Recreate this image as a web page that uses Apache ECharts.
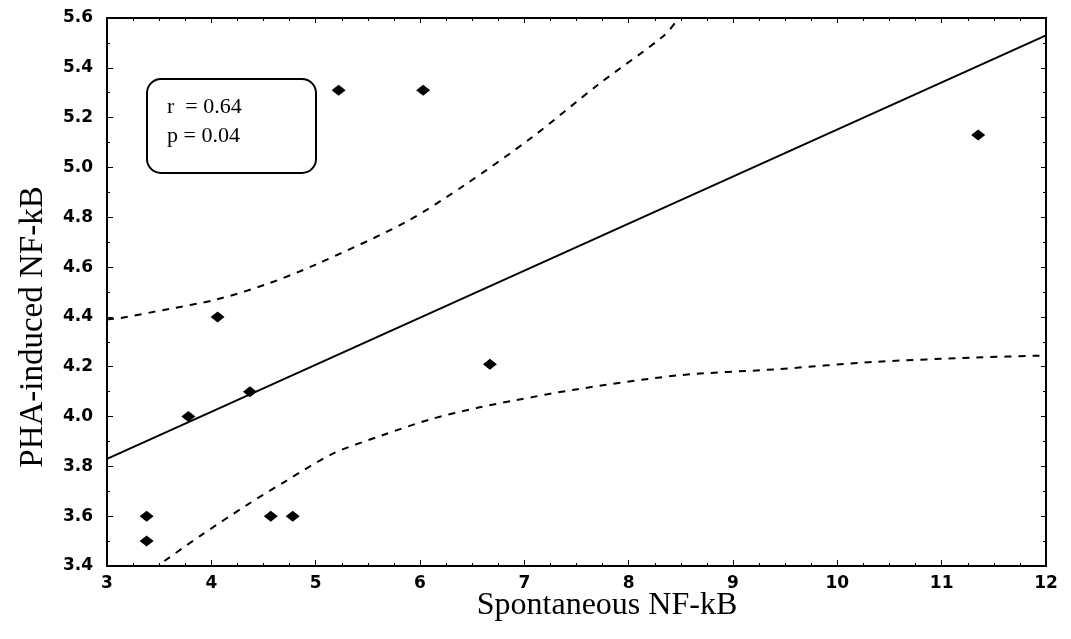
<!DOCTYPE html>
<html>
<head>
<meta charset="utf-8">
<script src="https://cdn.jsdelivr.net/npm/echarts@6/dist/echarts.min.js"></script>
<style>
  html, body { margin: 0; padding: 0; background: #fff; }
  #chart { width: 1071px; height: 639px; }
</style>
</head>
<body>
<div id="chart"></div>
<script>
// scatter points (spontaneous, PHA-induced)
const spontaneous = [3.38, 3.38, 3.78, 4.06, 4.37, 4.57, 4.78, 5.22, 6.03, 6.67, 11.35];
const phaInduced = [3.6, 3.5, 4.0, 4.4, 4.1, 3.6, 3.6, 5.31, 5.31, 4.21, 5.13];

// regression line ends
const fitX = [3, 12];
const fitY = [3.83, 5.53];

// upper confidence band
const upperX = [3.0, 3.12, 3.57, 4.05, 4.52, 5.0, 5.86, 6.43, 7.07, 7.7, 8.34, 8.48];
const upperY = [4.39, 4.395, 4.43, 4.47, 4.53, 4.61, 4.78, 4.93, 5.12, 5.33, 5.53, 5.6];

// lower confidence band
const lowerX = [3.55, 3.89, 4.36, 4.71, 5.16, 5.64, 6.11, 6.56, 6.91, 7.51, 8.47, 9.42, 10.38, 11.33, 12];
const lowerY = [3.42, 3.52, 3.65, 3.74, 3.85, 3.925, 3.99, 4.036, 4.065, 4.11, 4.165, 4.19, 4.22, 4.237, 4.245];

const pts = spontaneous.map((x, i) => [x, phaInduced[i]]);
const zip = (xs, ys) => xs.map((x, i) => [x, ys[i]]);

const chart = echarts.init(document.getElementById('chart'), null, { renderer: 'canvas' });

const tickFont = { fontFamily: 'DejaVu Sans', fontSize: 17, fontWeight: 'bold', color: '#000' };
const axisLine = { show: true, lineStyle: { color: '#000', width: 2 } };

chart.setOption({
  animation: false,
  grid: { left: 107, right: 25, top: 18, bottom: 73 },
  xAxis: [
    {
      type: 'value', min: 3, max: 12, interval: 1,
      axisLine, splitLine: { show: false },
      axisTick: { inside: true, length: 6, lineStyle: { color: '#000' } },
      minorTick: { show: true, splitNumber: 4, length: 3, lineStyle: { color: '#000' } },
      axisLabel: { ...tickFont, margin: 9 },
    },
    {
      type: 'value', position: 'top', min: 3, max: 12, interval: 1,
      axisLine, splitLine: { show: false },
      axisTick: { inside: true, length: 5, lineStyle: { color: '#000' } },
      minorTick: { show: true, splitNumber: 4, length: 3, lineStyle: { color: '#000' } },
      axisLabel: { show: false },
    },
  ],
  yAxis: [
    {
      type: 'value', min: 3.4, max: 5.6, interval: 0.2,
      axisLine, splitLine: { show: false },
      axisTick: { inside: true, length: 6, lineStyle: { color: '#000' } },
      minorTick: { show: true, splitNumber: 2, length: 3, lineStyle: { color: '#000' } },
      axisLabel: { ...tickFont, margin: 14, formatter: v => v.toFixed(1) },
    },
    {
      type: 'value', position: 'right', min: 3.4, max: 5.6, interval: 0.2,
      axisLine, splitLine: { show: false },
      axisTick: { inside: true, length: 5, lineStyle: { color: '#000' } },
      minorTick: { show: true, splitNumber: 2, length: 3, lineStyle: { color: '#000' } },
      axisLabel: { show: false },
    },
  ],
  series: [
    {
      type: 'line', data: zip(fitX, fitY), showSymbol: false,
      lineStyle: { color: '#000', width: 2 },
    },
    {
      type: 'line', data: zip(upperX, upperY), showSymbol: false, smooth: 0.3,
      lineStyle: { color: '#000', width: 2, type: [7, 7] },
    },
    {
      type: 'line', data: zip(lowerX, lowerY), showSymbol: false, smooth: 0.3,
      lineStyle: { color: '#000', width: 2, type: [7, 7] },
    },
    {
      type: 'scatter', data: pts, symbol: 'diamond', symbolSize: [14, 11],
      itemStyle: { color: '#000', opacity: 1 }, z: 5,
    },
  ],
  graphic: [
    {
      type: 'rect', shape: { x: 147, y: 79, width: 169, height: 94, r: 14 },
      style: { fill: '#fff', stroke: '#000', lineWidth: 2 }, z: 10,
    },
    {
      type: 'text', left: 167, top: 96, z: 11,
      style: { text: 'r  = 0.64', font: '22px "Liberation Serif"', fill: '#000' },
    },
    {
      type: 'text', left: 167, top: 125, z: 11,
      style: { text: 'p = 0.04', font: '22px "Liberation Serif"', fill: '#000' },
    },
    {
      type: 'text', z: 11, x: 607, y: 606,
      style: { text: 'Spontaneous NF-kB', font: '32px "Liberation Serif"', fill: '#000', align: 'center', verticalAlign: 'middle' },
    },
    {
      type: 'text', z: 11, x: 33, y: 327, rotation: Math.PI / 2,
      style: { text: 'PHA-induced NF-kB', font: '33px "Liberation Serif"', fill: '#000', align: 'center', verticalAlign: 'middle' },
    },
  ],
});
</script>
</body>
</html>
